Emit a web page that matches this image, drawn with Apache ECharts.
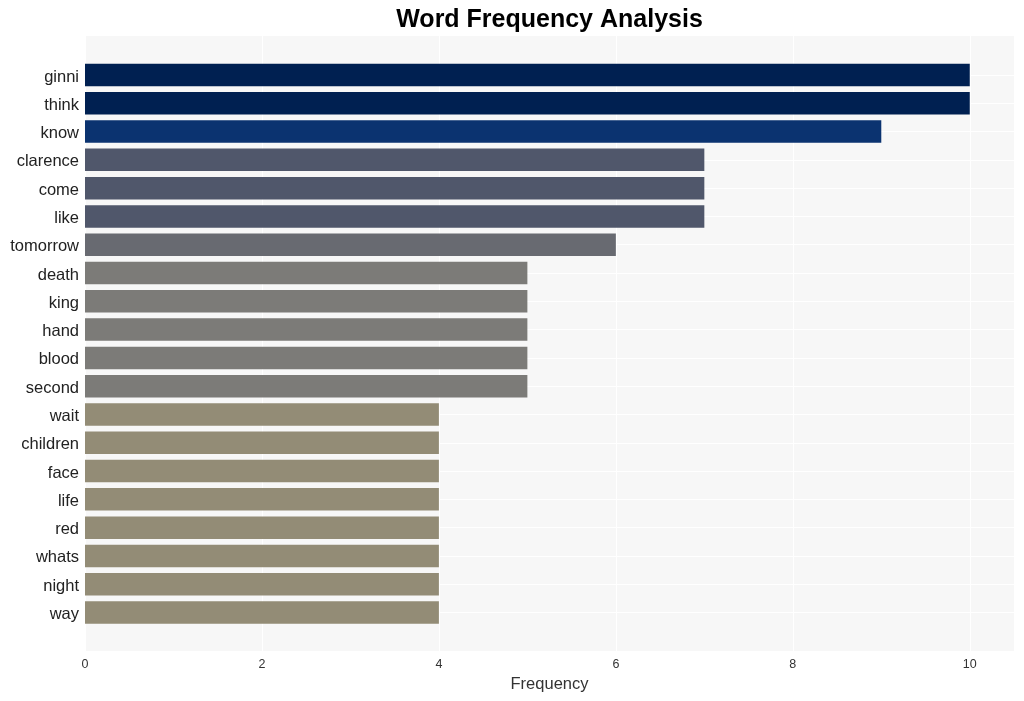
<!DOCTYPE html>
<html><head><meta charset="utf-8">
<script src="https://cdn.jsdelivr.net/npm/echarts@6/dist/echarts.min.js"></script>
<style>html,body{margin:0;padding:0;background:#fff}#c{width:1024px;height:701px}</style>
</head><body><div id="c"></div>
<script>
const words = ["ginni","think","know","clarence","come","like","tomorrow","death","king","hand","blood","second","wait","children","face","life","red","whats","night","way"];
const freqs = [10,10,9,7,7,7,6,5,5,5,5,5,4,4,4,4,4,4,4,4];
const xTicks = [0,2,4,6,8,10];
const palette = {10:"#002051",9:"#0b3370",7:"#50576b",6:"#686a71",5:"#7c7b78",4:"#938c76"};

const font = "Liberation Sans";
const chart = echarts.init(document.getElementById('c'));
chart.setOption({
  animation:false,
  backgroundColor:'#ffffff',
  title:{text:'Word Frequency Analysis',left:544.5,top:3,textAlign:'center',
    textStyle:{fontFamily:font,fontSize:25,fontWeight:'bold',color:'#000'}},
  grid:[
    {left:85,right:10,top:36,bottom:50,show:true,backgroundColor:'#f7f7f7',borderWidth:0},
    {left:85,right:10,top:75,bottom:88.5,show:false}
  ],
  xAxis:[
    {type:'value',gridIndex:0,min:0,max:10.5,interval:2,
     axisLine:{show:false},axisTick:{show:false},
     axisLabel:{fontFamily:font,fontSize:12.5,color:'#333',margin:7,
       formatter:v=>xTicks.includes(v)?String(v):''},
     splitLine:{show:true,lineStyle:{color:'#ffffff',width:1.2}},
     name:'Frequency',nameLocation:'middle',nameGap:25,
     nameTextStyle:{fontFamily:font,fontSize:16.5,color:'#333'}},
    {type:'value',gridIndex:1,min:0,max:10.5,interval:2,show:false,splitLine:{show:false}}
  ],
  yAxis:[
    {type:'value',gridIndex:0,show:false,splitLine:{show:false}},
    {type:'category',gridIndex:1,data:words,inverse:true,boundaryGap:false,
     axisLine:{show:false},axisTick:{show:false},
     axisLabel:{margin:6,interval:0,formatter:v=>'{a|'+v+'}',
       rich:{a:{fontFamily:font,fontSize:16.5,color:'#222',padding:[4,0,0,0]}}},
     splitLine:{show:true,lineStyle:{color:'#ffffff',width:1.2}}}
  ],
  series:[{
    type:'bar',xAxisIndex:1,yAxisIndex:1,data:freqs,barWidth:22.5,clip:false,
    itemStyle:{color:p=>palette[p.value]}
  }]
});
</script></body></html>
